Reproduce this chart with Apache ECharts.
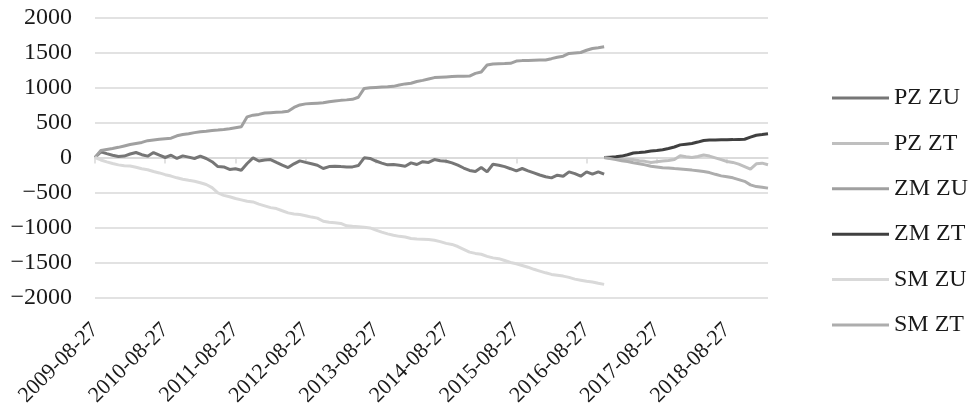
<!DOCTYPE html>
<html>
<head>
<meta charset="UTF-8">
<title>PZ / ZM / SM</title>
<script src="https://cdn.jsdelivr.net/npm/echarts@6/dist/echarts.min.js"></script>
<style>
  html, body { margin: 0; padding: 0; background: #fff; }
  #main { width: 976px; height: 417px; }
</style>
</head>
<body>
<div id="main"></div>
<script>
// monthly points on the 27th, 2009-08-27 .. 2019-03-27
var startYear = 2009, startMonth = 8, monthCount = 116;
var dates = [];
for (var i = 0; i < monthCount; i++) {
  var mm = startMonth - 1 + i;
  var y = startYear + Math.floor(mm / 12);
  var m = (mm % 12) + 1;
  dates.push(y + '-' + (m < 10 ? '0' + m : m) + '-27');
}

// first period: 2009-08 .. 2016-11 (88 points)
var pzZu = [0, 80, 55, 33, 15, 20, 50, 71, 40, 19, 71, 33, 0, 33, -14, 23, 5, -14, 19, -14,
  -60, -130, -134, -171, -160, -181, -86, -5, -50, -35, -29, -70, -110, -143, -90, -48, -70, -90, -110, -157,
  -130, -124, -130, -134, -134, -115, -5, -14, -50, -80, -105, -100, -110, -124, -76, -100, -60, -70, -29, -45,
  -53, -76, -110, -150, -185, -200, -143, -205, -96, -110, -130, -160, -191, -157, -190, -220, -250, -275, -291, -253,
  -267, -205, -230, -267, -205, -238, -205, -238];
var zmZu = [0, 100, 115, 128, 145, 165, 185, 200, 215, 240, 250, 260, 268, 275, 310, 328, 340, 355, 366, 375,
  385, 392, 400, 410, 425, 440, 580, 604, 615, 635, 640, 645, 650, 660, 715, 750, 765, 770, 775, 780,
  795, 805, 815, 822, 830, 860, 985, 995, 1000, 1005, 1008, 1015, 1035, 1050, 1060, 1085, 1100, 1120, 1140, 1145,
  1150, 1155, 1158, 1160, 1162, 1200, 1220, 1320, 1335, 1338, 1340, 1343, 1375, 1382, 1385, 1388, 1390, 1392, 1410, 1430,
  1445, 1485, 1492, 1498, 1530, 1555, 1565, 1580];
var smZu = [0, -35, -63, -85, -105, -118, -122, -140, -160, -175, -200, -220, -245, -265, -290, -310, -325, -338, -360, -385,
  -430, -505, -540, -560, -585, -605, -625, -634, -665, -690, -715, -729, -760, -790, -805, -813, -830, -850, -865, -910,
  -925, -932, -940, -975, -982, -988, -995, -1005, -1035, -1065, -1090, -1110, -1125, -1135, -1155, -1162, -1166, -1170, -1180, -1200,
  -1225, -1240, -1270, -1310, -1350, -1368, -1380, -1410, -1432, -1443, -1470, -1498, -1515, -1540, -1565, -1595, -1620, -1645, -1668, -1680,
  -1692, -1710, -1735, -1750, -1765, -1777, -1795, -1810];

// second period: 2016-11 .. 2019-03 (29 points)
var pzZt = [0, -10, -15, -20, -25, -30, -45, -55, -70, -60, -50, -43, -30, 25, 10, 0, 15, 35, 20, -5,
  -30, -57, -70, -95, -130, -166, -90, -81, -104];
var zmZt = [0, 5, 10, 20, 40, 65, 72, 80, 92, 100, 110, 128, 150, 180, 190, 200, 220, 242, 248, 250,
  252, 253, 255, 258, 260, 290, 318, 328, 339];
var smZt = [0, -15, -30, -45, -57, -75, -90, -105, -125, -135, -145, -150, -158, -165, -172, -180, -190, -200, -215, -240,
  -262, -275, -290, -315, -340, -390, -415, -425, -437];

var names = ['PZ ZU', 'PZ ZT', 'ZM ZU', 'ZM ZT', 'SM ZU', 'SM ZT'];
var colors = ['#767676', '#bfbfbf', '#a0a0a0', '#404040', '#d9d9d9', '#adadad'];

function early(arr) {
  var out = arr.slice();
  while (out.length < monthCount) out.push(null);
  return out;
}
function late(arr) {
  var out = [];
  for (var i = 0; i < monthCount - arr.length; i++) out.push(null);
  return out.concat(arr);
}
var seriesData = [early(pzZu), late(pzZt), early(zmZu), late(zmZt), early(smZu), late(smZt)];

var font = "'Liberation Serif', 'Times New Roman', serif";
var chart = echarts.init(document.getElementById('main'));

var option = {
  animation: false,
  textStyle: { fontFamily: font },
  grid: { left: 95, right: 208, top: 17.3, bottom: 119.3 },
  legend: {
    orient: 'vertical',
    left: 832,
    top: 86,
    padding: 0,
    itemWidth: 57,
    itemHeight: 3,
    itemGap: 21.4,
    icon: 'rect',
    data: names,
    textStyle: { fontFamily: font, fontSize: 24, lineHeight: 24, color: '#1a1a1a' }
  },
  xAxis: [{
    type: 'category',
    data: dates,
    boundaryGap: false,
    position: 'bottom',
    axisLine: { show: false, onZero: false },
    axisTick: { show: false },
    axisLabel: {
      interval: 11,
      rotate: 45,
      margin: 29,
      fontFamily: font,
      fontSize: 22,
      color: '#1a1a1a'
    }
  }, {
    type: 'category',
    data: dates,
    boundaryGap: false,
    position: 'bottom',
    axisLine: { show: true, onZero: true, lineStyle: { color: '#d9d9d9', width: 1.5 } },
    axisTick: { show: true, interval: 11, length: 6, lineStyle: { color: '#d9d9d9', width: 1.5 } },
    axisLabel: { show: false },
    splitLine: { show: false }
  }],
  yAxis: {
    type: 'value',
    min: -2000,
    max: 2000,
    interval: 500,
    axisLine: { show: false },
    axisTick: { show: false },
    splitLine: { lineStyle: { color: '#d9d9d9', width: 1.5 } },
    axisLabel: {
      margin: 23,
      fontFamily: font,
      fontSize: 24,
      color: '#1a1a1a',
      formatter: function (v) { return v < 0 ? '\u2212' + Math.abs(v) : String(v); }
    }
  },
  series: names.map(function (n, i) {
    return {
      name: n,
      type: 'line',
      data: seriesData[i],
      symbol: 'none',
      showSymbol: false,
      connectNulls: false,
      color: colors[i],
      lineStyle: { color: colors[i], width: 3 }
    };
  })
};

chart.setOption(option);
</script>
</body>
</html>
